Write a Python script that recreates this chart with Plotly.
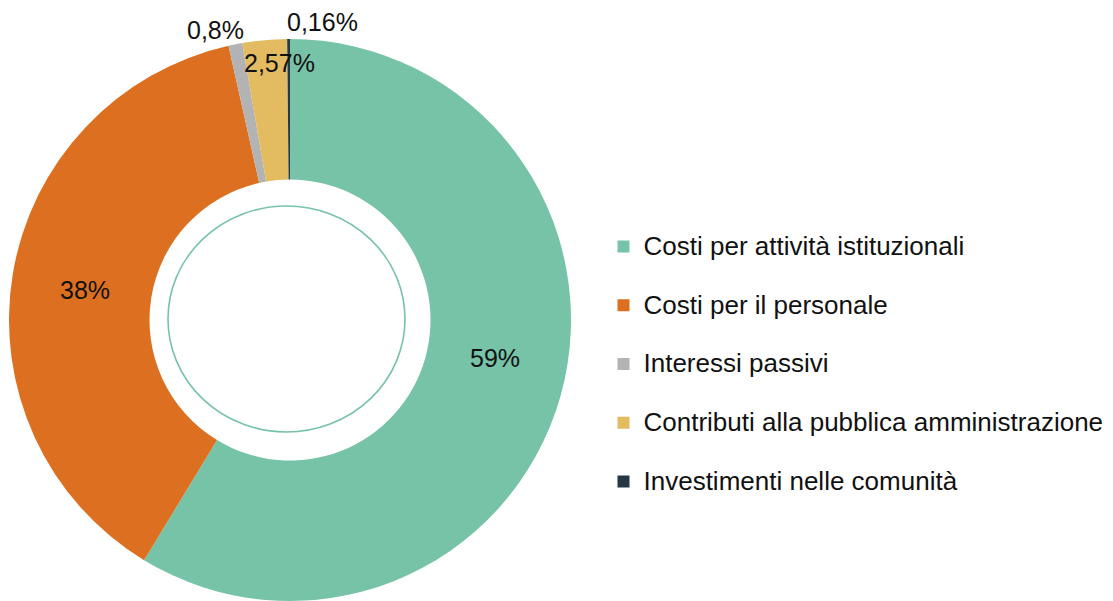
import math
import plotly.graph_objects as go

categorie = [
    "Costi per attività istituzionali",
    "Costi per il personale",
    "Interessi passivi",
    "Contributi alla pubblica amministrazione",
    "Investimenti nelle comunità",
]
valori = [59, 38, 0.8, 2.57, 0.16]
etichette = ["59%", "38%", "0,8%", "2,57%", "0,16%"]
colori = ["#76c3a8", "#dd7020", "#b3b3b3", "#e3bb61", "#263746"]

# posizione radiale delle etichette (1 = bordo esterno) e piccoli spostamenti
raggio_etich = [0.75, 0.75, 1.0, 1.0, 1.0]
spost_x = [2, 3, -20, 15, 34]
spost_y = [19, -4, 14, -23, 17]

W, H = 1113, 601
OFF = 8  # margine del body della pagina
TOP = 39 - OFF
BOT = OFF
PH = H - TOP - BOT
CX, CY, R = 290 - OFF, 320 - OFF, 281

fig = go.Figure()

fig.add_trace(
    go.Pie(
        labels=[
            '<span style="font-size:26px">' + c + "</span><br> " for c in categorie
        ],
        values=valori,
        textinfo="none",
        marker=dict(colors=colori, line=dict(width=0)),
        hole=0.5,
        sort=False,
        direction="clockwise",
        rotation=0,
        hoverinfo="skip",
        domain=dict(x=[(CX - R) / W, (CX + R) / W], y=[0, 1]),
    )
)

# etichette percentuali, poste lungo l'angolo medio di ogni fetta
totale = sum(valori)
cum = 0
for i, v in enumerate(valori):
    meta = (cum + v / 2) / totale * 2 * math.pi
    cum += v
    r = R * raggio_etich[i]
    px = CX + r * math.sin(meta)
    py = CY - r * math.cos(meta)
    fig.add_annotation(
        x=px / W,
        y=(H - BOT - py) / PH,
        xref="paper",
        yref="paper",
        text=etichette[i],
        showarrow=False,
        xanchor="center",
        yanchor="middle",
        xshift=spost_x[i],
        yshift=spost_y[i],
        font=dict(size=25, color="#111111"),
    )

# cerchio sottile dentro il foro
fig.add_shape(
    type="circle",
    xref="paper", yref="paper",
    x0=(168 - OFF) / W, x1=(405 - OFF) / W,
    y0=(H - BOT - (432 - OFF)) / PH, y1=(H - BOT - (206 - OFF)) / PH,
    line=dict(color="#76c3a8", width=1.6),
)

fig.update_layout(
    width=W,
    height=H,
    margin=dict(l=0, r=0, t=TOP, b=BOT),
    paper_bgcolor="white",
    plot_bgcolor="white",
    font=dict(family="Liberation Sans, Arial, sans-serif", size=20, color="#111111"),
    showlegend=True,
    legend=dict(
        x=(603.5 - OFF) / W,
        xanchor="left",
        y=(H - BOT - (226 - OFF)) / PH,
        yanchor="top",
        valign="top",
        font=dict(size=21.44, color="#111111"),
        traceorder="normal",
    ),
)

fig.write_html("out.html")
